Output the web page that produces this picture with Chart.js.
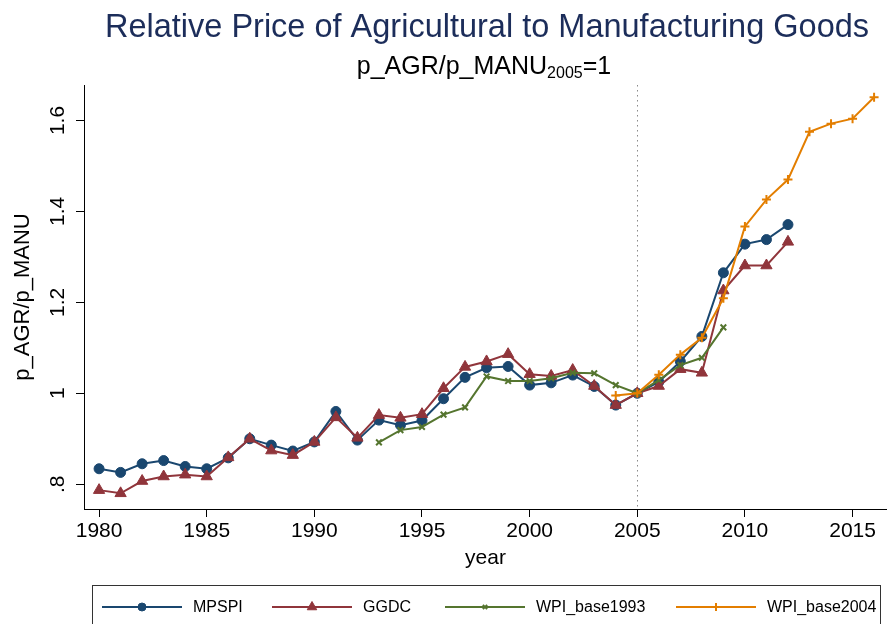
<!DOCTYPE html>
<html>
<head>
<meta charset="utf-8">
<title>Relative Price of Agricultural to Manufacturing Goods</title>
<script src="https://cdn.jsdelivr.net/npm/chart.js@4.4.1/dist/chart.umd.min.js"></script>
<style>
  html, body { margin: 0; padding: 0; background: #fff; }
  #wrap { width: 887px; height: 624px; position: relative; }
</style>
</head>
<body>
<div id="wrap"><canvas id="relprice"></canvas></div>
<script>
// relative price index, 2005 = 1
const mpspiYears = [1980, 1981, 1982, 1983, 1984, 1985, 1986, 1987, 1988, 1989, 1990, 1991, 1992,
  1993, 1994, 1995, 1996, 1997, 1998, 1999, 2000, 2001, 2002, 2003, 2004, 2005, 2006, 2007, 2008,
  2009, 2010, 2011, 2012];
const mpspiValues = [0.834, 0.826, 0.845, 0.852, 0.839, 0.834, 0.858, 0.900, 0.886, 0.873, 0.893,
  0.960, 0.897, 0.941, 0.930, 0.940, 0.988, 1.035, 1.056, 1.059, 1.018, 1.023, 1.040, 1.015, 0.974,
  1.000, 1.025, 1.070, 1.125, 1.265, 1.328, 1.338, 1.371];

const ggdcYears = mpspiYears;
const ggdcValues = [0.787, 0.780, 0.807, 0.817, 0.821, 0.817, 0.859, 0.900, 0.874, 0.864, 0.893,
  0.947, 0.902, 0.952, 0.946, 0.954, 1.011, 1.058, 1.070, 1.086, 1.042, 1.038, 1.051, 1.016, 0.974,
  1.000, 1.016, 1.053, 1.045, 1.226, 1.281, 1.281, 1.333];

const wpi93Years = [1993, 1994, 1995, 1996, 1997, 1998, 1999, 2000, 2001, 2002, 2003, 2004, 2005,
  2006, 2007, 2008, 2009];
const wpi93Values = [0.892, 0.919, 0.926, 0.953, 0.969, 1.037, 1.027, 1.027, 1.033, 1.045, 1.044,
  1.018, 1.000, 1.029, 1.062, 1.078, 1.145];

const wpi04Years = [2004, 2005, 2006, 2007, 2008, 2009, 2010, 2011, 2012, 2013, 2014, 2015, 2016];
const wpi04Values = [0.995, 1.000, 1.041, 1.085, 1.122, 1.209, 1.367, 1.426, 1.470, 1.575, 1.593,
  1.604, 1.651];

const xTicks = [1980, 1985, 1990, 1995, 2000, 2005, 2010, 2015];
const yTicks = [0.8, 1.0, 1.2, 1.4, 1.6];
const yTickLabels = ['.8', '1', '1.2', '1.4', '1.6'];
const baseYear = 2005;

const FONT = '"Liberation Sans", Arial, Helvetica, sans-serif';

function toPoints(years, values) {
  return years.map((y, i) => ({ x: y, y: values[i] }));
}

// title + subtitle with the 2005 subscript
const headerPlugin = {
  id: 'header',
  afterDraw(chart) {
    const ctx = chart.ctx;
    ctx.save();
    ctx.textBaseline = 'alphabetic';
    ctx.textAlign = 'center';
    ctx.fillStyle = '#1c2d5a';
    ctx.font = '32.5px ' + FONT;
    ctx.fillText('Relative Price of Agricultural to Manufacturing Goods', 487, 37);

    const main = 'p_AGR/p_MANU';
    const sub = '2005';
    const tail = '=1';
    ctx.fillStyle = '#000';
    ctx.textAlign = 'left';
    ctx.font = '25px ' + FONT;
    const wMain = ctx.measureText(main).width;
    const wTail = ctx.measureText(tail).width;
    ctx.font = '16px ' + FONT;
    const wSub = ctx.measureText(sub).width;
    let x = 484 - (wMain + wSub + wTail) / 2;
    ctx.font = '25px ' + FONT;
    ctx.fillText(main, x, 74);
    x += wMain;
    ctx.font = '16px ' + FONT;
    ctx.fillText(sub, x, 78);
    x += wSub;
    ctx.font = '25px ' + FONT;
    ctx.fillText(tail, x, 74);
    ctx.restore();
  }
};

// dotted reference line at the base year
const baseLinePlugin = {
  id: 'baseLine',
  beforeDatasetsDraw(chart) {
    const { ctx, chartArea } = chart;
    const px = Math.round(chart.scales.x.getPixelForValue(baseYear)) + 0.5;
    ctx.save();
    ctx.strokeStyle = '#8a8a8a';
    ctx.lineWidth = 1;
    ctx.setLineDash([1.5, 3.5]);
    ctx.beginPath();
    ctx.moveTo(px, chartArea.top);
    ctx.lineTo(px, chartArea.bottom);
    ctx.stroke();
    ctx.restore();
  }
};

// boxed legend: line sample with marker in the middle
const boxLegendPlugin = {
  id: 'boxLegend',
  afterDraw(chart) {
    const ctx = chart.ctx;
    const starts = [102, 272, 445, 676];
    const lineLen = 80;
    const cy = 607;
    ctx.save();
    ctx.strokeStyle = '#333';
    ctx.lineWidth = 1;
    ctx.strokeRect(92.5, 585.5, 788, 60);
    ctx.font = '16px ' + FONT;
    ctx.textBaseline = 'middle';
    ctx.textAlign = 'left';
    chart.data.datasets.forEach((ds, i) => {
      const x0 = starts[i];
      ctx.strokeStyle = ds.borderColor;
      ctx.fillStyle = ds.backgroundColor;
      ctx.lineWidth = 2;
      ctx.beginPath();
      ctx.moveTo(x0, cy);
      ctx.lineTo(x0 + lineLen, cy);
      ctx.stroke();
      ctx.lineWidth = ds.pointBorderWidth;
      Chart.helpers.drawPoint(ctx, {
        pointStyle: ds.pointStyle,
        radius: ds.legendRadius,
        borderWidth: ds.pointBorderWidth,
        rotation: 0
      }, x0 + lineLen / 2, cy);
      ctx.fillStyle = '#000';
      ctx.fillText(ds.label, x0 + lineLen + 11, cy + 1);
    });
    ctx.restore();
  }
};

new Chart(document.getElementById('relprice'), {
  type: 'line',
  data: {
    datasets: [
      {
        label: 'MPSPI', data: toPoints(mpspiYears, mpspiValues),
        borderColor: '#1a476f', backgroundColor: '#1a476f', borderWidth: 2,
        pointStyle: 'circle', pointRadius: 5, pointBorderWidth: 1, legendRadius: 4, order: 4
      },
      {
        label: 'GGDC', data: toPoints(ggdcYears, ggdcValues),
        borderColor: '#90353b', backgroundColor: '#90353b', borderWidth: 2,
        pointStyle: 'triangle', pointRadius: 6.5, pointBorderWidth: 1, legendRadius: 5.5, order: 3
      },
      {
        label: 'WPI_base1993', data: toPoints(wpi93Years, wpi93Values),
        borderColor: '#55752f', backgroundColor: '#55752f', borderWidth: 2,
        pointStyle: 'crossRot', pointRadius: 4, pointBorderWidth: 2, legendRadius: 3, order: 2
      },
      {
        label: 'WPI_base2004', data: toPoints(wpi04Years, wpi04Values),
        borderColor: '#e37e00', backgroundColor: '#e37e00', borderWidth: 2,
        pointStyle: 'cross', pointRadius: 4.5, pointBorderWidth: 2, legendRadius: 4, order: 1
      }
    ]
  },
  options: {
    responsive: true,
    maintainAspectRatio: false,
    animation: false,
    layout: { autoPadding: false, padding: { top: 85, right: 0, bottom: 53, left: 0 } },
    elements: { line: { tension: 0 } },
    plugins: {
      legend: { display: false },
      title: { display: false },
      tooltip: { enabled: false }
    },
    scales: {
      x: {
        type: 'linear',
        min: 1979.3,
        max: 2016.6,
        afterBuildTicks: (s) => { s.ticks = xTicks.map((v) => ({ value: v })); },
        afterFit: (s) => { s.height = 62; s.paddingLeft = 0; s.paddingRight = 0; },
        ticks: {
          color: '#000',
          font: { family: FONT, size: 21 },
          padding: 2,
          maxRotation: 0,
          callback: (v) => String(v)
        },
        grid: { drawOnChartArea: false, tickLength: 8, tickColor: '#000', color: '#000' },
        border: { color: '#000', width: 1 },
        title: { display: true, text: 'year', color: '#000', font: { family: FONT, size: 21 }, padding: 0 }
      },
      y: {
        type: 'linear',
        min: 0.7455,
        max: 1.678,
        afterBuildTicks: (s) => { s.ticks = yTicks.map((v) => ({ value: v })); },
        afterFit: (s) => { s.width = 84; s.paddingTop = 0; s.paddingBottom = 0; },
        ticks: {
          color: '#000',
          font: { family: FONT, size: 21 },
          padding: 3,
          minRotation: 90,
          maxRotation: 90,
          crossAlign: 'center',
          callback: (v) => yTickLabels[yTicks.indexOf(v)]
        },
        grid: { drawOnChartArea: false, tickLength: 8, tickColor: '#000', color: '#000' },
        border: { color: '#000', width: 1 },
        title: { display: true, text: 'p_AGR/p_MANU', color: '#000', font: { family: FONT, size: 22 }, padding: { top: 10 } }
      }
    }
  },
  plugins: [baseLinePlugin, headerPlugin, boxLegendPlugin]
});
</script>
</body>
</html>
